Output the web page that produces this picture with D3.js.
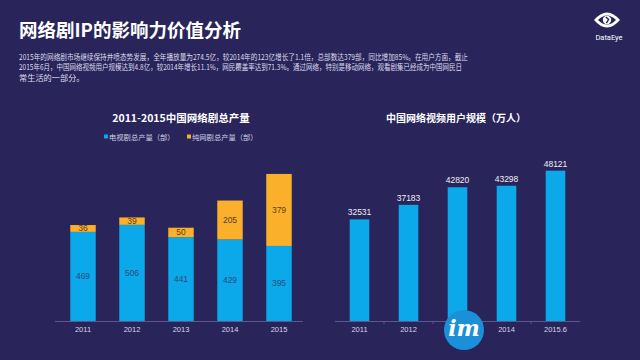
<!DOCTYPE html>
<html><head><meta charset="utf-8">
<script src="https://cdn.jsdelivr.net/npm/d3@7"></script>
<style>
html,body{margin:0;padding:0;background:#29245a;}
svg{display:block;font-family:"Noto Sans CJK SC","Noto Sans",sans-serif;}
</style></head>
<body>
<svg id="c" width="640" height="360"></svg>
<script>
const years = ["2011","2012","2013","2014","2015"];
const tvDrama = [469, 506, 441, 429, 395];
const webDrama = [36, 39, 50, 205, 379];
const userYears = ["2011","2012","2013","2014","2015.6"];
const users = [32531, 37183, 42820, 43298, 48121];
const legendLabels = ["电视剧总产量（部）", "纯网剧总产量（部）"];
const headline = "网络剧IP的影响力价值分析";
const paragraph = [
  "2015年的网络剧市场继续保持井喷态势发展，全年播放量为274.5亿，较2014年的123亿增长了1.1倍，总部数达379部，同比增加85%。在用户方面，截止",
  "2015年6月，中国网络视频用户规模达到4.8亿，较2014年增长11.1%，网民覆盖率达到71.3%。通过网络，特别是移动网络，观看剧集已经成为中国网民日",
  "常生活的一部分。"
];
const leftTitle = "2011-2015中国网络剧总产量";
const rightTitle = "中国网络视频用户规模（万人）";

const BG = "#29245a", BLUE = "#0ba8ea", ORANGE = "#fbb02b";
const svg = d3.select("#c");
svg.append("rect").attr("width",640).attr("height",360).attr("fill",BG);

// header
svg.append("text").attr("x",19).attr("y",37).attr("fill","#fff")
  .attr("font-size",18.5).attr("font-weight","bold").text(headline);
const paraW = [449, 443, null];
paragraph.forEach((l,i)=>{
  const t = svg.append("text").attr("x",19).attr("y",60+i*10.3).attr("fill","#dcdcea")
    .attr("font-size",8.2).text(l);
  if(paraW[i]) t.attr("textLength",paraW[i]).attr("lengthAdjust","spacingAndGlyphs");
});

// logo
const logo = svg.append("g").attr("transform","translate(607,20)");
logo.append("path").attr("d","M-13,0 Q0,-15 13,0 Q0,15 -13,0 Z").attr("fill","#fff");
logo.append("path").attr("d","M-9,0 Q0,-9 9,0 Q0,9 -9,0 Z").attr("fill",BG);
logo.append("circle").attr("r",4.2).attr("fill","#fff");
logo.append("path").attr("d","M-1.2,-3 L1.6,-0.5 L-0.6,3.2").attr("stroke",BG).attr("stroke-width",1.4).attr("fill","none");
svg.append("text").attr("x",609).attr("y",40).attr("text-anchor","middle").attr("fill","#fff")
  .attr("font-size",7.5).attr("font-family","Roboto, sans-serif").text("DataEye");

// left chart
const base = 321;
const xL = d3.scaleBand().domain(years).range([58.5,303.5]).paddingInner(0.48).paddingOuter(0.24);
const yL = d3.scaleLinear().domain([0,800]).range([base, base-152]);
svg.append("text").attr("x",181).attr("y",122).attr("text-anchor","middle").attr("fill","#fff")
  .attr("font-size",10.5).attr("font-weight","bold").text(leftTitle);
const lg = [[104,BLUE],[187,ORANGE]];
lg.forEach((p,i)=>{
  svg.append("rect").attr("x",p[0]).attr("y",134.5).attr("width",4).attr("height",4).attr("fill",p[1]);
  svg.append("text").attr("x",p[0]+5).attr("y",139.5).attr("fill","#cfcfe0").attr("font-size",7.3).text(legendLabels[i]);
});
const gL = svg.append("g");
years.forEach((y,i)=>{
  const x = xL(y), w = xL.bandwidth();
  gL.append("rect").attr("x",x).attr("y",yL(tvDrama[i])).attr("width",w)
    .attr("height",base-yL(tvDrama[i])).attr("fill",BLUE);
  gL.append("rect").attr("x",x).attr("y",yL(tvDrama[i]+webDrama[i])).attr("width",w)
    .attr("height",yL(tvDrama[i])-yL(tvDrama[i]+webDrama[i])).attr("fill",ORANGE);
  gL.append("text").attr("x",x+w/2).attr("y",(yL(tvDrama[i])+base)/2+3).attr("text-anchor","middle")
    .attr("fill","#2c4a7c").attr("font-size",8.5).attr("font-family","Liberation Sans, sans-serif").text(tvDrama[i]);
  gL.append("text").attr("x",x+w/2).attr("y",(yL(tvDrama[i])+yL(tvDrama[i]+webDrama[i]))/2+3).attr("text-anchor","middle")
    .attr("fill","#5a4020").attr("font-size",8.5).attr("font-family","Liberation Sans, sans-serif").text(webDrama[i]);
});
const axL = svg.append("g").attr("transform",`translate(0,${base})`)
  .call(d3.axisBottom(xL).tickSize(0).tickPadding(6));
axL.select(".domain").attr("d","M55,0.5H303").attr("stroke","#5a5690");
axL.selectAll("text").attr("fill","#d6d6e6").attr("font-size",7.5).attr("font-family","Liberation Sans, sans-serif");

// right chart
const xR = d3.scaleBand().domain(userYears).range([335,580]).paddingInner(0.6).paddingOuter(0.3);
const yR = d3.scaleLinear().domain([0,50000]).range([base, base-156.2]);
svg.append("text").attr("x",456).attr("y",122).attr("text-anchor","middle").attr("fill","#fff")
  .attr("font-size",10).attr("font-weight","bold").text(rightTitle);
const gR = svg.append("g");
userYears.forEach((y,i)=>{
  const x = xR(y), w = xR.bandwidth();
  gR.append("rect").attr("x",x).attr("y",yR(users[i])).attr("width",w)
    .attr("height",base-yR(users[i])).attr("fill",BLUE);
  gR.append("text").attr("x",x+w/2).attr("y",yR(users[i])-4).attr("text-anchor","middle")
    .attr("fill","#eeeef6").attr("font-size",8.5).attr("font-family","Liberation Sans, sans-serif").text(users[i]);
});
const axR = svg.append("g").attr("transform",`translate(0,${base})`)
  .call(d3.axisBottom(xR).tickSize(0).tickPadding(6));
axR.select(".domain").attr("d","M335,0.5H580").attr("stroke","#5a5690");
axR.selectAll("text").attr("fill","#d6d6e6").attr("font-size",7.5).attr("font-family","Liberation Sans, sans-serif");
const step = xR.step();
d3.range(1,5).forEach(k=>{
  const xx = 335 + k*step;
  axR.append("line").attr("x1",xx).attr("x2",xx).attr("y1",0).attr("y2",3).attr("stroke","#5a5690");
});

// watermark
const wm = svg.append("g").attr("transform","translate(464,330)");
wm.append("circle").attr("r",20).attr("fill","#1b8fd8");
wm.append("text").attr("y",6).attr("text-anchor","middle").attr("fill","#fff").attr("font-size",22)
  .attr("font-style","italic").attr("font-weight","bold").attr("font-family","DejaVu Serif, serif").text("im");
</script>
</body></html>
